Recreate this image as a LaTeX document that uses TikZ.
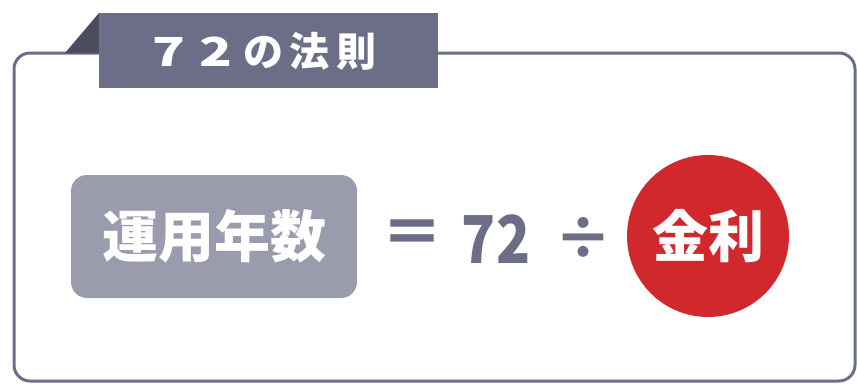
\documentclass[tikz,border=0pt]{standalone}
\usepackage{fontspec}
\newfontfamily\jp{Noto Sans CJK JP}
\definecolor{frameC}{HTML}{6C6E88}
\definecolor{darkC}{HTML}{4B4C5E}
\definecolor{boxC}{HTML}{9A9BAD}
\definecolor{redC}{HTML}{D1282E}
\newcommand{\tch}[1]{\makebox[47pt][c]{#1}}
\newcommand{\wdig}[1]{\makebox[47pt][c]{\scalebox{1.35}[1]{#1}}}
\tikzset{
  frame/.style={draw=frameC, line width=3pt, rounded corners=16pt},
  eqtext/.style={text=frameC, font=\jp\bfseries, inner sep=0pt}
}
\begin{document}
\begin{tikzpicture}[x=1pt,y=1pt]
\useasboundingbox (0,0) rectangle (857,384);
\draw[frame] (14,3) rectangle (855,331);
\fill[darkC] (65,331) -- (99,371) -- (99,331) -- cycle;
\node[fill=frameC, minimum width=339pt, minimum height=75pt, inner sep=0pt] (tab) at (268.5,333.5) {};
\node[text=white, inner sep=0pt, font=\jp\bfseries\fontsize{40}{40}\selectfont] (title) at (263,333) {\wdig{7}\wdig{2}\tch{の}\tch{法}\tch{則}};
\node[fill=boxC, rounded corners=16pt, minimum width=286pt, minimum height=123pt,
  inner sep=0pt, text=white, font=\jp\bfseries\fontsize{56}{56}\selectfont] (years) at (214,147.5) {運用年数};
\node[eqtext, font=\jp\bfseries\fontsize{62}{62}\selectfont] (eq) at (412,146) {＝};
\node[eqtext, font=\jp\bfseries\fontsize{66}{66}\selectfont] (n72) at (496,145) {\scalebox{0.85}[1]{72}};
\node[eqtext, font=\jp\bfseries\fontsize{58}{58}\selectfont] (div) at (583,146) {÷};
\node[circle, fill=redC, minimum size=162pt, inner sep=0pt, text=white,
  font=\jp\bfseries\fontsize{56}{56}\selectfont] (rate) at (708,148) {金利};
\end{tikzpicture}
\end{document}
